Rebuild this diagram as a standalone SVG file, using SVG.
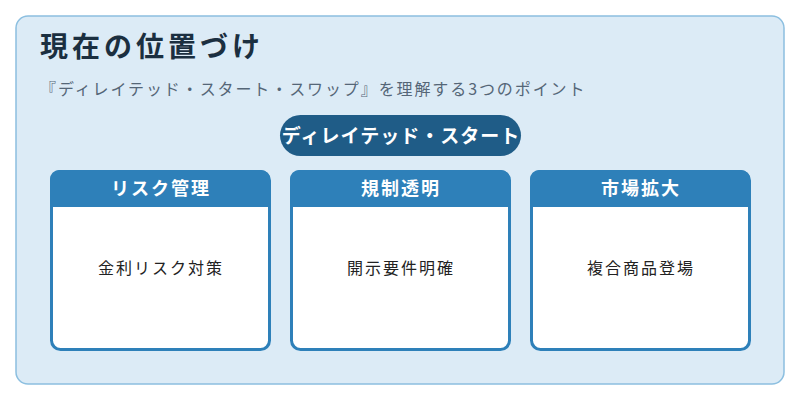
<svg xmlns="http://www.w3.org/2000/svg" width="800" height="400" viewBox="0 0 800 400">
<style>
text{font-family:"Noto Sans CJK JP","Noto Sans",sans-serif}
.card{fill:#fff;stroke:#2e80b9;stroke-width:3}
.hd{fill:#2e80b9}
.ht{fill:#fff;font-size:18px;font-weight:bold;text-anchor:middle;letter-spacing:2px}
.bt{fill:#222;font-size:16px;text-anchor:middle;letter-spacing:2px}
</style>
<rect x="16" y="16" width="768" height="368" rx="12" fill="#dcebf6" stroke="#8cbfe0" stroke-width="1.5"/>
<text x="40" y="57" font-size="28" font-weight="bold" fill="#1b2f40" letter-spacing="4">現在の位置づけ</text>
<text x="40" y="95" font-size="16" fill="#556677" letter-spacing="1.9">『ディレイテッド・スタート・スワップ』を理解する3つのポイント</text>
<g id="center"><rect x="280" y="115" width="241" height="41" rx="20.5" fill="#1f5c87"/>
<text x="401" y="143" font-size="19" font-weight="bold" fill="#fff" text-anchor="middle" letter-spacing="1">ディレイテッド・スタート</text></g>
<g id="n1"><rect class="card" x="51.5" y="171.5" width="218" height="178" rx="9"/><path class="hd" d="M50 207V179a9 9 0 0 1 9-9h202a9 9 0 0 1 9 9v28z"/>
<text class="ht" x="161" y="195">リスク管理</text><text class="bt" x="161" y="274">金利リスク対策</text></g>
<g id="n2"><rect class="card" x="291.5" y="171.5" width="218" height="178" rx="9"/><path class="hd" d="M290 207V179a9 9 0 0 1 9-9h202a9 9 0 0 1 9 9v28z"/>
<text class="ht" x="401" y="195">規制透明</text><text class="bt" x="401" y="274">開示要件明確</text></g>
<g id="n3"><rect class="card" x="531.5" y="171.5" width="218" height="178" rx="9"/><path class="hd" d="M530 207V179a9 9 0 0 1 9-9h202a9 9 0 0 1 9 9v28z"/>
<text class="ht" x="641" y="195">市場拡大</text><text class="bt" x="641" y="274">複合商品登場</text></g>
<g id="connectors"/>
</svg>
